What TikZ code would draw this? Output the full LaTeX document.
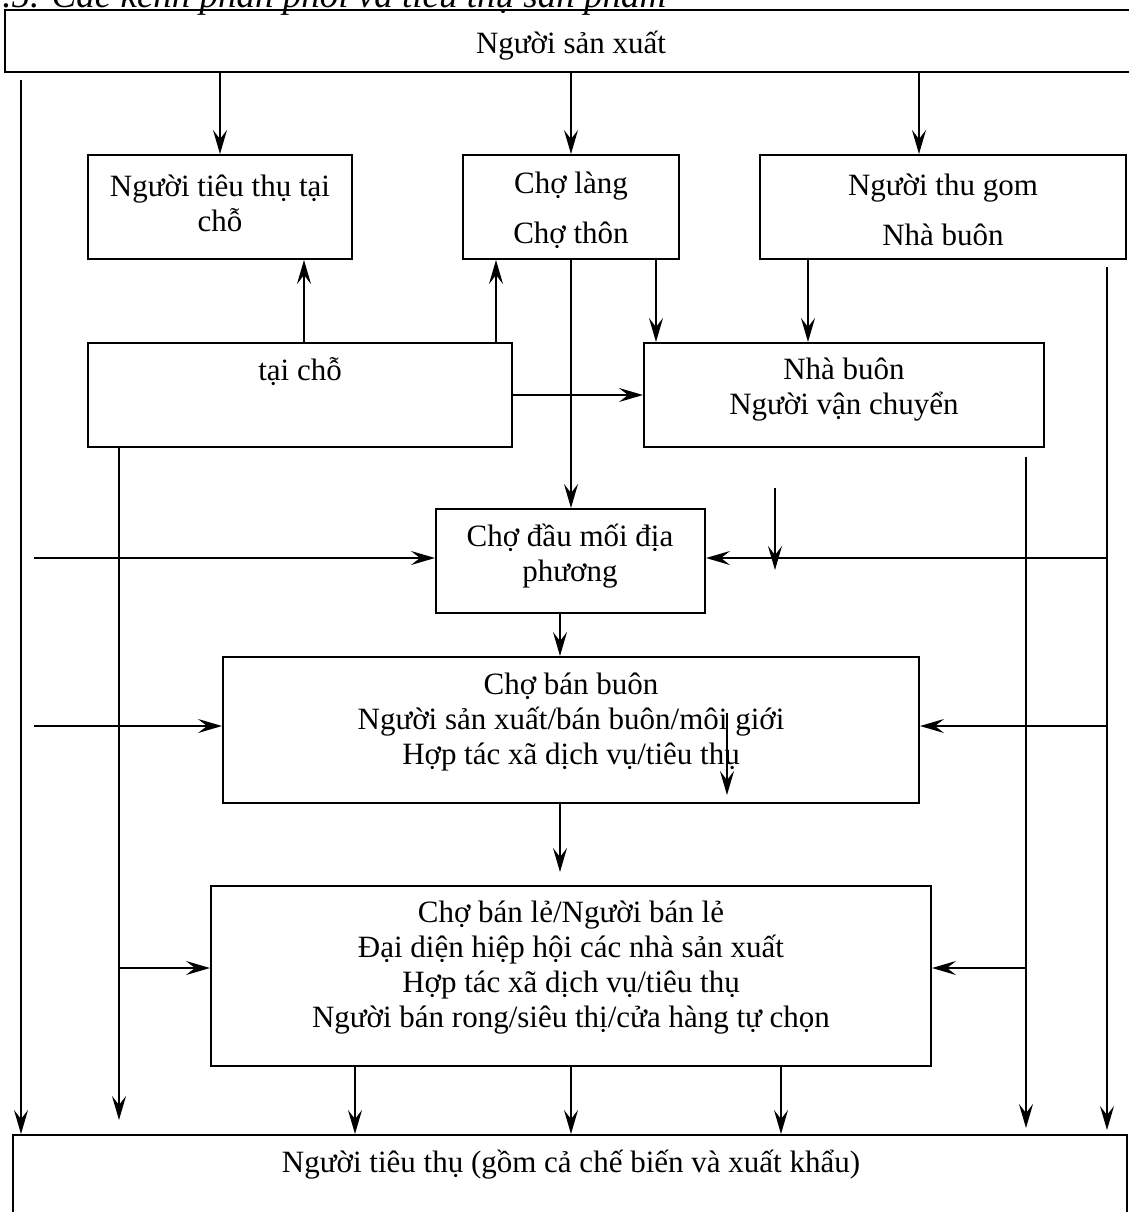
\documentclass[tikz,border=0pt]{standalone}
\usepackage{fontspec}
\setmainfont{Liberation Serif}
\usetikzlibrary{arrows.meta}

\tikzset{
  box/.style={draw, line width=1pt, inner sep=0pt},
  txt/.style={align=center, inner sep=0pt, font=\fontsize{15.5}{17.5}\selectfont},
  arr/.style={line width=1pt, -{Stealth[length=12pt,width=7pt,inset=4.5pt]}}
}

\begin{document}
\begin{tikzpicture}[x=0.5pt,y=-0.5pt]
  \useasboundingbox (0,0) rectangle (1129,1212);
  \clip (0,0) rectangle (1129,1212);
  % caption, cut off at the top of the page
  \node[anchor=base west, inner sep=0pt, font=\fontsize{18.5}{20}\selectfont\itshape] (cap) at (2,7) {.5. Các kênh phân phối và tiêu thụ sản phẩm};

  % boxes
  \node[box, minimum width=566pt, minimum height=31pt] (sx) at (571,41) {};
  \node[txt] (sx-t) at (571,46) {Người sản xuất};
  \node[box, minimum width=132pt, minimum height=52pt] (ntt) at (220,207) {};
  \node[txt] (ntt-t) at (220,203) {Người tiêu thụ tại\\chỗ};
  \node[box, minimum width=108pt, minimum height=52pt] (cho) at (571,207) {};
  \node[txt] (cho-t) at (571,210) {Chợ làng\\[7.5pt]Chợ thôn};
  \node[box, minimum width=183pt, minimum height=52pt] (ntg) at (943,207) {};
  \node[txt] (ntg-t) at (943,210) {Người thu gom\\[7.5pt]Nhà buôn};
  \node[box, minimum width=212pt, minimum height=52pt] (tc) at (300,395) {};
  \node[txt] (tc-t) at (300,372) {tại chỗ};
  \node[box, minimum width=200pt, minimum height=52pt] (nb) at (844,395) {};
  \node[txt] (nb-t) at (844,390) {Nhà buôn\\Người vận chuyển};
  \node[box, minimum width=134.5pt, minimum height=52pt] (dm) at (570.5,561) {};
  \node[txt] (dm-t) at (570,556) {Chợ đầu mối địa\\phương};
  \node[box, minimum width=348pt, minimum height=73pt] (bb) at (571,730) {};
  \node[txt] (bb-t) at (571,722) {Chợ bán buôn\\Người sản xuất/bán buôn/môi giới\\Hợp tác xã dịch vụ/tiêu thụ};
  \node[box, minimum width=360pt, minimum height=90pt] (bl) at (571,976) {};
  \node[txt] (bl-t) at (571,968) {Chợ bán lẻ/Người bán lẻ\\Đại diện hiệp hội các nhà sản xuất\\Hợp tác xã dịch vụ/tiêu thụ\\Người bán rong/siêu thị/cửa hàng tự chọn};
  \node[box, minimum width=557pt, minimum height=62.5pt] (ntd) at (570,1197.5) {};
  \node[txt] (ntd-t) at (571,1165) {Người tiêu thụ (gồm cả chế biến và xuất khẩu)};

  % free ends and bends
  \coordinate (gom) at (919,0);
  \coordinate (up1) at (304,0);
  \coordinate (up2) at (496,0);
  \coordinate (lang) at (656,0);
  \coordinate (buon) at (808,0);
  \coordinate (mid) at (560,872);
  \coordinate (h1) at (34,558);
  \coordinate (h2) at (34,726);
  \coordinate (h3) at (0,968);
  \coordinate (ltop) at (21,80);
  \coordinate (l2) at (119,1120);
  \coordinate (r1) at (1107,267);
  \coordinate (r1e) at (1107,1130);
  \coordinate (r2) at (1026,457);
  \coordinate (r2e) at (1026,1128);
  \coordinate (s1) at (775,488);
  \coordinate (s2) at (775,570);
  \coordinate (s3) at (727,713);
  \coordinate (s4) at (727,795);

  % top rows
  \draw[arr] (sx.south -| ntt.north) -- (ntt.north);
  \draw[arr] (sx.south -| cho.north) -- (cho.north);
  \draw[arr] (sx.south -| gom) -- (ntg.north -| gom);
  \draw[arr] (tc.north -| up1) -- (ntt.south -| up1);
  \draw[arr] (tc.north -| up2) -- (cho.south -| up2);
  \draw[arr] (cho.south -| lang) -- (nb.north -| lang);
  \draw[arr] (ntg.south -| buon) -- (nb.north -| buon);
  \draw[arr] (tc.east) -- (nb.west);
  \draw[arr] (cho.south) -- (cho.south |- dm.north);

  % left side
  \draw[arr] (ltop) -- (ltop |- ntd.north);
  \draw[arr] (h1) -- (dm.west |- h1);
  \draw[arr] (h2) -- (bb.west |- h2);
  \draw[arr] (tc.south -| l2) -- (l2);
  \draw[arr] (l2 |- h3) -- (bl.west |- h3);

  % right side
  \draw[arr] (r1) -- (r1e);
  \draw[arr] (r1 |- h1) -- (dm.east |- h1);
  \draw[arr] (r1 |- h2) -- (bb.east |- h2);
  \draw[arr] (r2) -- (r2e);
  \draw[arr] (r2 |- h3) -- (bl.east |- h3);

  % middle column
  \draw[arr] (dm.south -| mid) -- (bb.north -| mid);
  \draw[arr] (bb.south -| mid) -- (mid);
  \draw[arr] (s1) -- (s2);
  \draw[arr] (s3) -- (s4);
  \foreach \x in {355,571,781}
    \draw[arr] (\x,0 |- bl.south) -- (\x,0 |- ntd.north);
\end{tikzpicture}
\end{document}
